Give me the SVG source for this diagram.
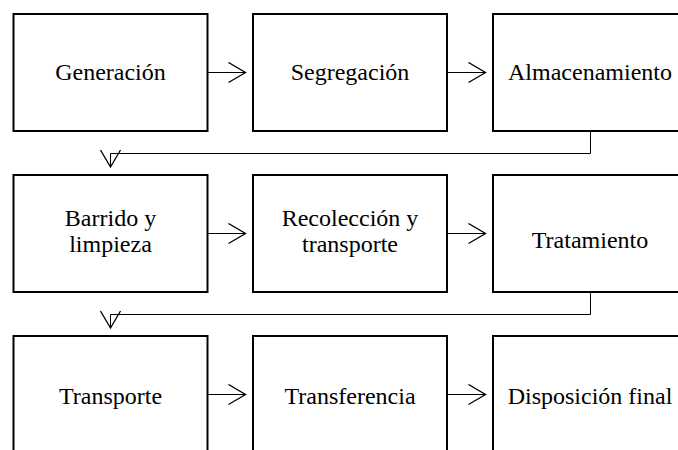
<svg xmlns="http://www.w3.org/2000/svg" width="678" height="450" viewBox="0 0 678 450">
<defs>
<style>
.box{fill:#fff;stroke:#000;stroke-width:2}
.t{font-family:"Liberation Serif","Times New Roman",serif;font-size:24px;fill:#000;text-anchor:middle}
.c{fill:none;stroke:#000;stroke-width:1}
</style>
<marker id="ah" markerUnits="userSpaceOnUse" markerWidth="20" markerHeight="22" viewBox="-18 -11 20 22" refX="0" refY="0" orient="auto">
<path d="M-17,-10 L0,0 L-17,10" fill="none" stroke="#000" stroke-width="1.3"/>
</marker>
</defs>
<rect width="678" height="450" fill="#fff"/>
<g id="n1"><rect class="box" x="13.5" y="14" width="194" height="117"/><text class="t" x="110.5" y="80">Generación</text></g>
<g id="n2"><rect class="box" x="253" y="14" width="194" height="117"/><text class="t" x="350" y="80">Segregación</text></g>
<g id="n3"><rect class="box" x="493" y="14" width="194" height="117"/><text class="t" x="590" y="80">Almacenamiento</text></g>
<g id="n4"><rect class="box" x="13.5" y="175" width="194" height="117"/><text class="t" x="110.5" y="226">Barrido y</text><text class="t" x="110.5" y="252">limpieza</text></g>
<g id="n5"><rect class="box" x="253" y="175" width="194" height="117"/><text class="t" x="350" y="226">Recolección y</text><text class="t" x="350" y="252">transporte</text></g>
<g id="n6"><rect class="box" x="493" y="175" width="194" height="117"/><text class="t" x="590" y="248">Tratamiento</text></g>
<g id="n7"><rect class="box" x="13.5" y="336" width="194" height="117"/><text class="t" x="110.5" y="404">Transporte</text></g>
<g id="n8"><rect class="box" x="253" y="336" width="194" height="117"/><text class="t" x="350" y="404">Transferencia</text></g>
<g id="n9"><rect class="box" x="493" y="336" width="194" height="117"/><text class="t" x="590" y="404">Disposición final</text></g>
<g id="connectors">
<path class="c" d="M207.5,72.5 H245.5" marker-end="url(#ah)"/>
<path class="c" d="M447,72.5 H485.5" marker-end="url(#ah)"/>
<path class="c" d="M590.5,131 V153.5 H110.5 V167" marker-end="url(#ah)"/>
<path class="c" d="M207.5,233.5 H245.5" marker-end="url(#ah)"/>
<path class="c" d="M447,233.5 H485.5" marker-end="url(#ah)"/>
<path class="c" d="M590.5,292 V314.5 H110.5 V328" marker-end="url(#ah)"/>
<path class="c" d="M207.5,394.5 H245.5" marker-end="url(#ah)"/>
<path class="c" d="M447,394.5 H485.5" marker-end="url(#ah)"/>
</g>
</svg>
